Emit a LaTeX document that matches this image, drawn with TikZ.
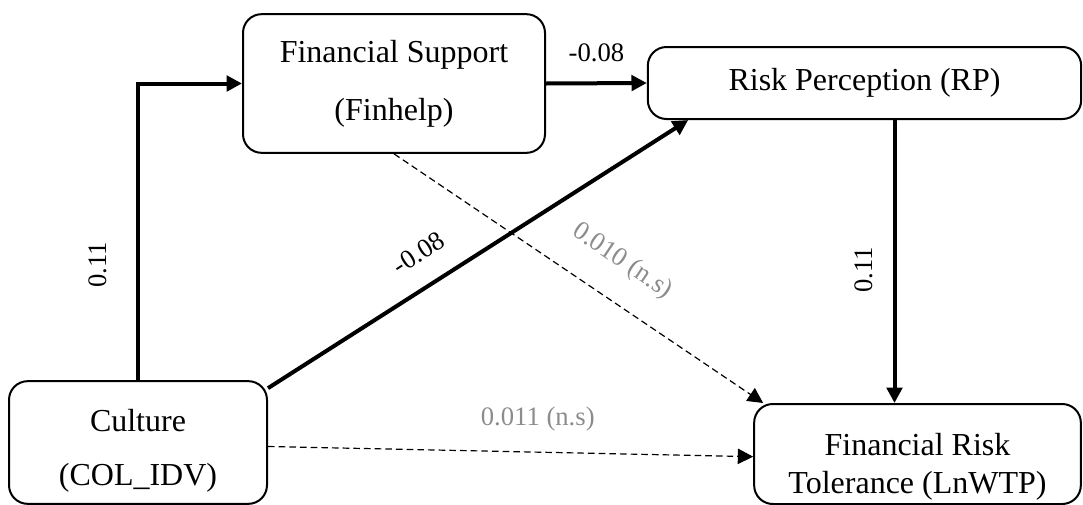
\documentclass[tikz,border=0pt]{standalone}
\usepackage{fontspec}
\setmainfont{Liberation Serif}
\usetikzlibrary{arrows.meta}

\begin{document}
\begin{tikzpicture}[x=0.75pt, y=-0.75pt, >={Triangle[length=11.5pt, width=11.5pt]},
    var/.style={draw, line width=1.5pt, rounded corners=14pt, align=center, font=\fontsize{24}{29}\selectfont},
    sig/.style={->, line width=3pt},
    nsig/.style={->, line width=0.9pt, dash pattern=on 5pt off 3pt},
    coef/.style={font=\fontsize{20}{24}\selectfont},
    nscoef/.style={coef, text=black!45}]
    \useasboundingbox (0,0) rectangle (1083,504);

    % Variables
    \node[var, minimum width=226.5pt, minimum height=104pt] (fin) at (394,83.5) {Financial Support\\[14.5pt](Finhelp)};
    \node[var, minimum width=325pt, minimum height=54pt] (rp) at (864.5,83) {Risk Perception (RP)};
    \node[var, minimum width=193.5pt, minimum height=92pt, inner ysep=1pt, text height=70pt] (cul) at (138,442.5) {Culture\\[12pt](COL\_IDV)};
    \node[var, minimum width=245pt, minimum height=75pt, inner ysep=1pt, text height=65pt] (lnw) at (917.5,454) {Financial Risk\\Tolerance (LnWTP)};

    % Significant paths
    \draw[sig] (cul.north) |- (fin.west) node[pos=.194, xshift=-30pt, rotate=90, coef] {0.11};
    \draw[sig] (fin.east) -- (rp.west) node[midway, above=11pt, coef] {-0.08};
    \draw[sig] ([yshift=-6pt]cul.north east) -- ([xshift=31pt]rp.south west) node[pos=.4, sloped, above=13pt, coef] {-0.08};
    \draw[sig] ([xshift=22.5pt]rp.south) -- ([xshift=22.5pt]rp.south |- lnw.north) node[pos=.53, xshift=-23pt, rotate=90, coef] {0.11};

    % Non-significant paths
    \draw[nsig] (fin.south) -- ([xshift=7.5pt]lnw.north west) node[pos=.56, sloped, above=16pt, nscoef] {0.010 (n.s)};
    \draw[nsig] ([yshift=-3pt]cul.east) -- ([yshift=-2pt]lnw.west) node[pos=.556, above=12pt, nscoef] {0.011 (n.s)};
\end{tikzpicture}
\end{document}
